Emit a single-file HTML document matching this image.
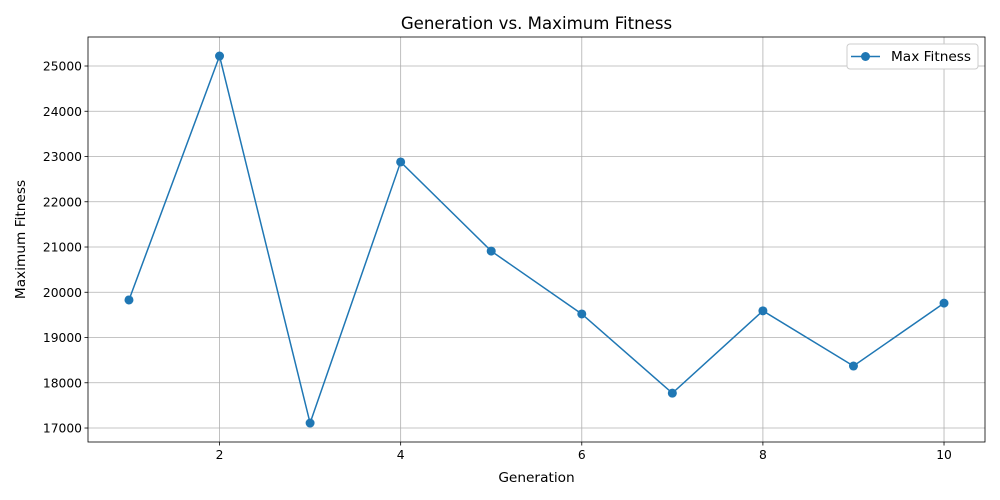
<!DOCTYPE html>
<html><head><meta charset="utf-8"><style>
body{margin:0;background:#fff;}
svg{display:block;font-family:"DejaVu Sans","Liberation Sans",sans-serif;}
</style></head><body>
<svg id="chart" width="1000" height="500"></svg>
<script>
const generations=[1,2,3,4,5,6,7,8,9,10];
const maxFitness=[19830,25220,17110,22880,20910,19520,17770,19590,18370,19760];
const xTicks=[2,4,6,8,10];
const yTicks=[17000,18000,19000,20000,21000,22000,23000,24000,25000];
const L=88,R=985,T=37,B=442;
const xMin=0.5475,xMax=10.4525,yMin=16691,yMax=25641;
const sx=v=>L+(v-xMin)/(xMax-xMin)*(R-L);
const sy=v=>B-(v-yMin)/(yMax-yMin)*(B-T);
const svg=document.getElementById('chart');
const NS='http://www.w3.org/2000/svg';
function mk(tag,attrs,parent){const e=document.createElementNS(NS,tag);for(const k in attrs)e.setAttribute(k,attrs[k]);(parent||svg).appendChild(e);return e;}
xTicks.forEach(t=>{const l=mk('line',{x1:sx(t),x2:sx(t),y1:T,y2:B,stroke:'#b0b0b0','stroke-width':0.8});


const tk=mk('line',{x1:sx(t),x2:sx(t),y1:B,y2:B+3.5,stroke:'#000','stroke-width':0.8});


const tx=mk('text',{x:sx(t),y:B+17,'text-anchor':'middle','font-size':12.3,fill:'#000'});tx.textContent=t;

});
yTicks.forEach(t=>{const l=mk('line',{x1:L,x2:R,y1:sy(t),y2:sy(t),stroke:'#b0b0b0','stroke-width':0.8});


const tk=mk('line',{x1:L-3.5,x2:L,y1:sy(t),y2:sy(t),stroke:'#000','stroke-width':0.8});


const tx=mk('text',{x:L-6,y:sy(t)+4.5,'text-anchor':'end','font-size':12.3,fill:'#000'});tx.textContent=t;

});
const pl=mk('polyline',{points:generations.map((g,i)=>sx(g)+','+sy(maxFitness[i])).join(' '),fill:'none',stroke:'#1f77b4','stroke-width':1.5});


generations.forEach((g,i)=>{const c=mk('circle',{cx:sx(g),cy:sy(maxFitness[i]),r:4.5,fill:'#1f77b4'});

});
const fr=mk('rect',{x:L,y:T,width:R-L,height:B-T,fill:'none',stroke:'#000','stroke-width':0.8});


const ti=mk('text',{x:(L+R)/2,y:29,'text-anchor':'middle','font-size':16.6});ti.textContent='Generation vs. Maximum Fitness';


const xl=mk('text',{x:(L+R)/2,y:482,'text-anchor':'middle','font-size':13.7});xl.textContent='Generation';


const yl=mk('text',{x:25,y:(T+B)/2,'text-anchor':'middle','font-size':13.7,transform:'rotate(-90 25 '+((T+B)/2)+')'});yl.textContent='Maximum Fitness';


const lg=mk('g',{});


mk('rect',{x:847,y:44,width:131,height:25,rx:3,fill:'#fff',stroke:'#ccc','stroke-width':1},lg);
mk('line',{x1:851,x2:880,y1:56.5,y2:56.5,stroke:'#1f77b4','stroke-width':1.5},lg);
mk('circle',{cx:865.5,cy:56.5,r:4.5,fill:'#1f77b4'},lg);
const lt=mk('text',{x:891,y:61,'font-size':13.7},lg);lt.textContent='Max Fitness';


</script>
</body></html>
